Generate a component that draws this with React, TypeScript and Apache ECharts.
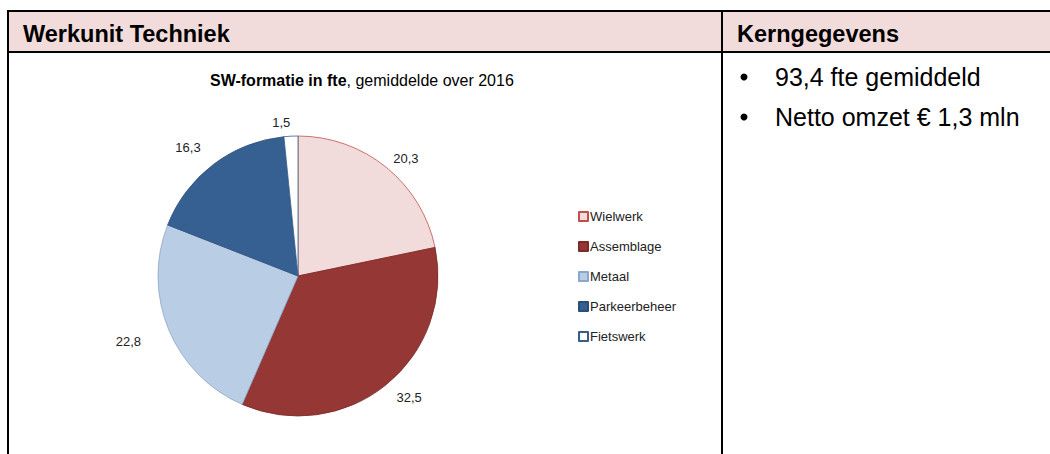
import React, { useEffect, useRef } from "react";
import * as echarts from "echarts";

const categories = ["Wielwerk", "Assemblage", "Metaal", "Parkeerbeheer", "Fietswerk"];
const values = [20.3, 32.5, 22.8, 16.3, 1.5];
const colors = ["#f2dcdb", "#953735", "#b9cde5", "#376092", "#ffffff"];
const borderColors = ["#c0504d", "#7a2c2a", "#8aa6c9", "#2c4d75", "#385d8a"];
const labelLineLengths = [11, 16, 30, 21, 14];
const headerLeft = "Werkunit Techniek";
const headerRight = "Kerngegevens";
const bullets = ["93,4 fte gemiddeld", "Netto omzet € 1,3 mln"];

export default function App() {
  const ref = useRef<HTMLDivElement>(null);
  useEffect(() => {
    const chart = echarts.init(ref.current!, undefined, { renderer: "svg" });
    const line = (x1: number, y1: number, x2: number, y2: number) => ({
      type: "line",
      z: 10,
      shape: { x1, y1, x2, y2 },
      style: { stroke: "#000", lineWidth: 2 },
    });
    const headerText = (text: string, x: number) => ({
      type: "text",
      z: 11,
      x,
      y: 34,
      style: {
        text,
        fontFamily: "Liberation Sans",
        fontWeight: "bold",
        fontSize: 23.5,
        fill: "#000",
        textVerticalAlign: "middle",
      },
    });
    chart.setOption({
      animation: false,
      backgroundColor: "#ffffff",
      title: {
        text: "{b|SW-formatie in fte}{n|, gemiddelde over 2016}",
        left: 205,
        top: 67,
        textStyle: {
          rich: {
            b: { fontFamily: "Liberation Sans", fontWeight: "bold", fontSize: 16, color: "#000" },
            n: { fontFamily: "Liberation Sans", fontWeight: "normal", fontSize: 16, color: "#000" },
          },
        },
      },
      legend: {
        orient: "vertical",
        left: 578,
        top: 210,
        padding: 0,
        itemWidth: 9,
        itemHeight: 9,
        itemGap: 17,
        icon: "rect",
        data: categories,
        textStyle: { fontFamily: "Liberation Sans", fontSize: 13, color: "#222", padding: [0, 0, 0, -3] },
      },
      graphic: [
        {
          type: "rect",
          z: 1,
          shape: { x: 8, y: 11, width: 1042, height: 41 },
          style: { fill: "#f2dbdb" },
        },
        line(8, 11, 1050, 11),
        line(8, 52, 1050, 52),
        line(8, 10, 8, 454),
        line(722, 11, 722, 454),
        headerText(headerLeft, 23),
        headerText(headerRight, 737),
        ...bullets.flatMap((b, i) => [
          {
            type: "circle",
            z: 11,
            shape: { cx: 744, cy: 77 + i * 40, r: 3.5 },
            style: { fill: "#000" },
          },
          {
            type: "text",
            z: 11,
            x: 775,
            y: 77 + i * 40,
            style: {
              text: b,
              fontFamily: "Liberation Sans",
              fontSize: 25,
              fill: "#000",
              textVerticalAlign: "middle",
            },
          },
        ]),
      ],
      series: [
        {
          type: "pie",
          center: [298, 276],
          radius: 140,
          startAngle: 90,
          clockwise: true,
          avoidLabelOverlap: false,
          label: {
            show: true,
            position: "outside",
            distanceToLabelLine: 0,
            fontFamily: "Liberation Sans",
            fontSize: 13,
            color: "#222",
            formatter: (p: any) => String(p.value).replace(".", ","),
          },
          labelLine: { show: false, length: 12, length2: 0 },
          emphasis: { disabled: true },
          data: categories.map((c, i) => ({
            name: c,
            value: values[i],
            itemStyle: { color: colors[i], borderColor: borderColors[i], borderWidth: 0.8 },
            labelLine: { show: false, length: labelLineLengths[i], length2: 0 },
          })),
        },
      ],
    });
    return () => chart.dispose();
  }, []);
  return (
    <div
      ref={ref}
      style={{ position: "absolute", left: 0, top: 0, width: 1050, height: 454 }}
    />
  );
}
